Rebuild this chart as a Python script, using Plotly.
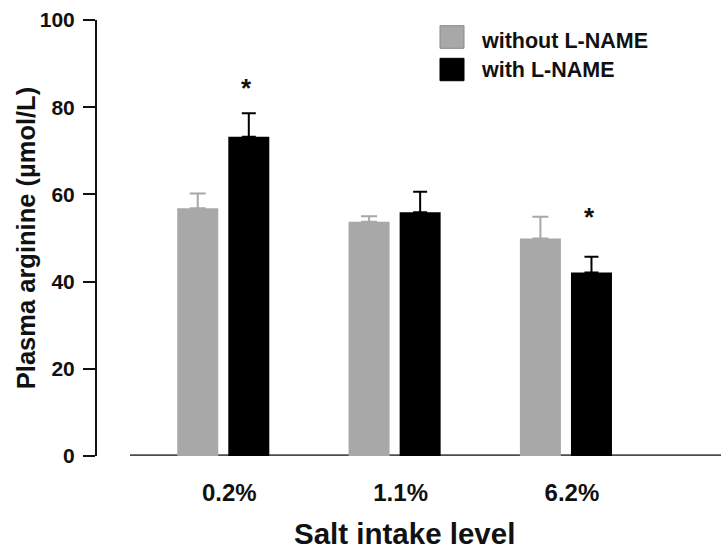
import plotly.graph_objects as go

# ---- data ----
categories = ["0.2%", "1.1%", "6.2%"]
series_names = ["without L-NAME", "with L-NAME"]
without_lname = [56.8, 53.7, 49.9]
without_err = [3.4, 1.3, 5.0]
with_lname = [73.2, 55.9, 42.1]
with_err = [5.4, 4.7, 3.6]
star_y = [85.0, None, 55.6]          # significance markers (with L-NAME)
y_ticks = [0, 20, 40, 60, 80, 100]

GRAY = "#a8a8a8"
BLACK = "#000000"
FONT = "Liberation Sans, Arial, Helvetica, sans-serif"

W, H = 721, 553
L, R, T, B = 97, 0, 20, 97.3
PW, PH = W - L - R, H - T - B


def px(x):
    return (x - L) / PW


def py(y):
    return (H - B - y) / PH


fig = go.Figure()
fig.add_trace(go.Bar(
    x=categories, y=without_lname, name=series_names[0],
    marker=dict(color=GRAY, line=dict(width=0)),
    error_y=dict(type="data", symmetric=False, array=without_err,
                 arrayminus=[0] * len(without_err), color=GRAY,
                 thickness=2, width=8),
    showlegend=False,
))
fig.add_trace(go.Bar(
    x=categories, y=with_lname, name=series_names[1],
    marker=dict(color=BLACK, line=dict(width=0)),
    error_y=dict(type="data", symmetric=False, array=with_err,
                 arrayminus=[0] * len(with_err), color=BLACK,
                 thickness=2, width=7),
    showlegend=False,
))

annotations = []
for c, s in zip(categories, star_y):
    if s is not None:
        annotations.append(dict(
            x=c, y=s, xref="x", yref="y", text="*", showarrow=False,
            xshift=23.5, yshift=-3, yanchor="middle",
            font=dict(family=FONT, size=26, color="#111", weight="bold")))

# manual legend
legend_items = [(series_names[0], GRAY, 25.7, 48.3, 41),
                (series_names[1], BLACK, 58.3, 80.7, 69.5)]
shapes = []
for name, col, y0, y1, yc in legend_items:
    shapes.append(dict(type="rect", xref="paper", yref="paper",
                       x0=px(440), x1=px(464), y0=py(y1), y1=py(y0),
                       fillcolor=col, line=dict(color="#8a8a8a" if col == GRAY else BLACK, width=1)))
    annotations.append(dict(x=px(479), y=py(yc), xref="paper", yref="paper",
                            text=name, showarrow=False, xanchor="left", yanchor="middle",
                            font=dict(family=FONT, size=21.5, color="#111", weight="bold")))

# x-axis baseline
shapes.append(dict(type="line", xref="paper", yref="y", x0=px(130), x1=1, y0=0, y1=0,
                   line=dict(color="#4d4d4d", width=3.5), layer="below"))

# axis titles
annotations.append(dict(x=px(404), y=py(552), xref="paper", yref="paper",
                        text="Salt intake level", showarrow=False,
                        xanchor="center", yanchor="bottom",
                        font=dict(family=FONT, size=29.5, color="#111", weight="bold")))
annotations.append(dict(x=px(26), y=py(238), xref="paper", yref="paper",
                        text="Plasma arginine (µmol/L)", showarrow=False, textangle=-90,
                        xanchor="center", yanchor="middle",
                        font=dict(family=FONT, size=25.5, color="#111", weight="bold")))

fig.update_layout(
    template="none",
    width=W, height=H,
    margin=dict(l=L, r=R, t=T, b=B, pad=0, autoexpand=False),
    paper_bgcolor="white", plot_bgcolor="white",
    barmode="group", bargap=0.404, bargroupgap=0.197,
    showlegend=False,
    shapes=shapes, annotations=annotations,
    xaxis=dict(type="category", range=[-0.737, 2.905], showline=False, automargin=False,
               showgrid=False, zeroline=False, ticks="",
               tickfont=dict(family=FONT, size=24, color="#111", weight="bold"),
               ticklabelshift=6, ticklabelstandoff=20),
    yaxis=dict(range=[0, 100], tickvals=y_ticks, showline=True, linecolor="#111",
               automargin=False,
               linewidth=2, ticks="outside", ticklen=12, tickwidth=2, tickcolor="#111",
               showgrid=False, zeroline=False,
               tickfont=dict(family=FONT, size=21, color="#111", weight="bold"),
               ticklabelstandoff=4),
)

fig.write_html("out.html", config={"displayModeBar": False},
               post_script="document.body.style.margin='0';document.body.style.overflow='hidden';")
